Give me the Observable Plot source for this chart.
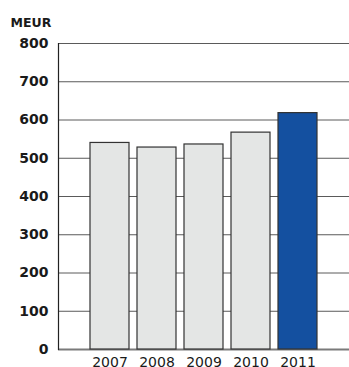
<!DOCTYPE html>
<html>
<head>
<meta charset="utf-8">
<script src="https://cdn.jsdelivr.net/npm/d3@7"></script>
<script src="https://cdn.jsdelivr.net/npm/@observablehq/plot@0.6"></script>
<style>
  html, body { margin: 0; padding: 0; background: #fff; }
  #chart svg { display: block; }
</style>
</head>
<body>
<div id="chart"></div>
<script>
// Annual figures, MEUR
const years = ["2007", "2008", "2009", "2010", "2011"];
const values = [540, 528, 536, 567, 618];
const yTicks = [0, 100, 200, 300, 400, 500, 600, 700, 800];
const unitLabel = "MEUR";
const highlightYear = "2011";

const data = years.map((year, i) => ({year, value: values[i]}));

const chart = Plot.plot({
  width: 349,
  height: 367,
  marginLeft: 58,
  marginRight: 0,
  marginTop: 43,
  marginBottom: 18,
  style: {fontFamily: "DejaVu Sans", background: "#fff"},
  x: {domain: years, paddingInner: 0.18, paddingOuter: 0.65, label: null},
  y: {domain: [0, 800], ticks: yTicks, label: null},
  marks: [
    // horizontal gridlines
    Plot.ruleY(yTicks.filter(d => d > 0), {stroke: "#5a5a5a", strokeWidth: 1}),
    Plot.ruleY([0], {stroke: "#7a7a7a", strokeWidth: 2}),
    // vertical axis line
    Plot.frame({anchor: "left", stroke: "#222", strokeWidth: 1.2}),
    Plot.barY(data, {
      x: "year",
      y: "value",
      fill: d => d.year === highlightYear ? "#1450a0" : "#e4e6e5",
      stroke: "#333",
      strokeWidth: 1.2
    }),
    Plot.axisY({
      ticks: yTicks,
      tickSize: 0,
      tickPadding: 10,
      fontSize: 14,
      fontWeight: "bold",
      fill: "#1a1a1a",
      label: null
    }),
    Plot.axisX({
      tickSize: 0,
      tickPadding: 8,
      fontSize: 14,
      fill: "#1a1a1a",
      label: null
    }),
    Plot.text([unitLabel], {
      frameAnchor: "top-left",
      textAnchor: "start",
      lineAnchor: "bottom",
      dx: -48,
      dy: -17,
      fontSize: 12.5,
      fontWeight: "bold",
      fill: "#1a1a1a"
    })
  ]
});

document.getElementById("chart").appendChild(chart);
</script>
</body>
</html>
